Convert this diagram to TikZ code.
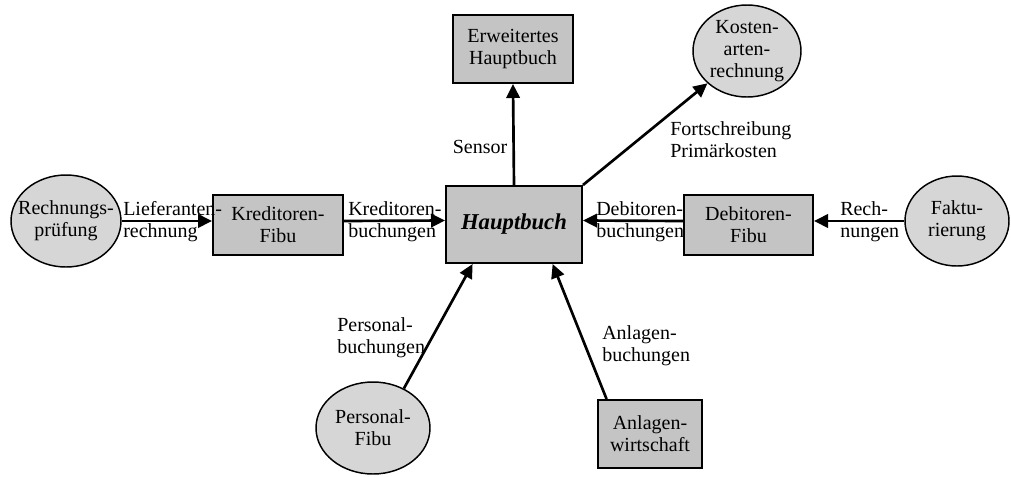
\documentclass[tikz,border=0pt]{standalone}
\usepackage{fontspec}
\setmainfont{Liberation Serif}
\usetikzlibrary{arrows.meta,shapes.geometric,calc}
\definecolor{boxgray}{RGB}{196,196,196}
\definecolor{ovalgray}{RGB}{214,214,214}
\begin{document}
\begin{tikzpicture}[x=0.75pt,y=-0.75pt,
  every node/.style={font=\fontsize{15}{16.5}\selectfont},
  box/.style={draw, line width=1.5pt, fill=boxgray, align=center, inner sep=0pt},
  oval/.style={ellipse, draw, line width=1.1pt, fill=ovalgray, inner sep=0pt},
  flow/.style={line width=2pt, -{Triangle[length=10.5pt,width=10pt]}},
  lbl/.style={align=left, inner sep=0pt, anchor=west},
]
\useasboundingbox (0,0) rectangle (1011,476);

% central ledger and the systems around it
\node[box, minimum width=102pt, minimum height=57.75pt,
      font=\fontsize{17}{20}\selectfont\bfseries\itshape] (H) at (514,224.5) {Hauptbuch};
\node[box, minimum width=90pt, minimum height=51pt] (E) at (513,49) {Erweitertes\\Hauptbuch};
\node[box, minimum width=97.5pt, minimum height=45pt] (Kr) at (278,225) {Kreditoren-\\Fibu};
\node[box, minimum width=96.75pt, minimum height=45pt] (D) at (748.5,225) {Debitoren-\\Fibu};
\node[box, minimum width=78pt, minimum height=51pt] (A) at (650,434) {Anlagen-\\wirtschaft};

\node[oval, minimum width=82.5pt, minimum height=69pt,
      label={[align=center]center:{Rechnungs-\\prüfung}}] (R) at (66,221) {};
\node[oval, minimum width=78pt, minimum height=67.5pt,
      label={[align=center]center:{Faktu-\\rierung}}] (F) at (957,221) {};
\node[oval, minimum width=81pt, minimum height=69pt,
      label={[align=center]center:{Kosten-\\arten-\\rechnung}}] (K) at (747,51) {};
\node[oval, minimum width=85.5pt, minimum height=69pt,
      label={[align=center]center:{Personal-\\Fibu}}] (P) at (373,428) {};

% flows
\draw[flow] (R) -- ([yshift=3pt]Kr.west);
\draw[flow] ([yshift=3pt]Kr.east) -- ([yshift=3pt]H.west);
\draw[flow] ([yshift=3pt]D.west) -- ([yshift=3pt]H.east);
\draw[flow] (F) -- ([yshift=3pt]D.east);
\draw[flow] (H.north) -- (E.south);
\draw[flow] (H.north east) -- (K);
\draw[flow] (P.52) -- ($(H.south west)!0.2!(H.south east)$);
\draw[flow] ($(A.north west)!0.09!(A.north east)$) -- ($(H.south west)!0.78!(H.south east)$);

% flow labels
\node[lbl] (lLief) at (123,222) {Lieferanten-\\rechnung};
\node[lbl] (lKred) at (348,222) {Kreditoren-\\buchungen};
\node[lbl] (lDeb) at (596,222) {Debitoren-\\buchungen};
\node[lbl] (lRech) at (840,222) {Rech-\\nungen};
\node[lbl] (lFort) at (670,140) {Fortschreibung\\Primärkosten};
\node[inner sep=0pt] (lSens) at (480,147) {Sensor};
\node[lbl] (lPers) at (337,338) {Personal-\\buchungen};
\node[lbl] (lAnl) at (602,346) {Anlagen-\\buchungen};
\end{tikzpicture}
\end{document}
